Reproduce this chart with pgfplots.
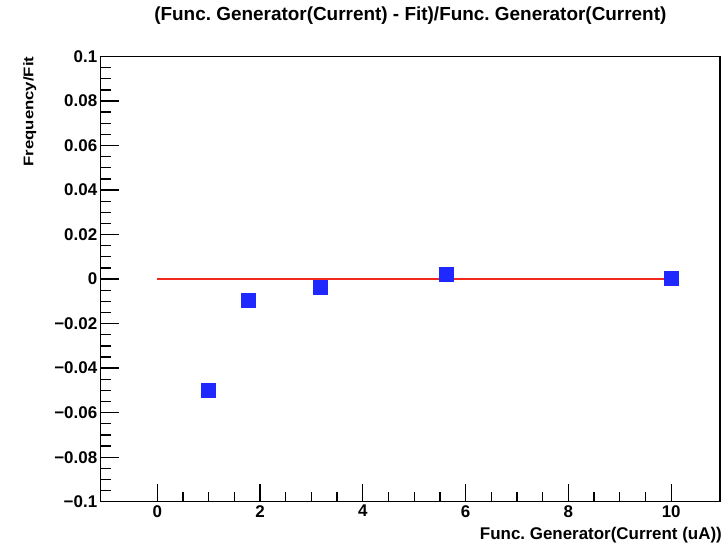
\documentclass[border=0pt]{standalone}
\usepackage{pgfplots}
\pgfplotsset{compat=1.18}
\usepackage{fontspec}
\setmainfont{Liberation Sans}
\usepackage{graphicx}
\definecolor{markblue}{RGB}{30,40,255}
\definecolor{fitred}{RGB}{240,40,30}
\frenchspacing
\begin{document}
\begin{tikzpicture}
\begin{axis}[
  scale only axis,
  width=619.3bp, height=445.2bp,
  xmin=-1.1, xmax=10.95, ymin=-0.1, ymax=0.1,
  axis line style={line width=1.5bp, black},
  tick style={line width=1.3bp, black},
  tick align=inside,
  xtick pos=bottom, ytick pos=left,
  major tick length=18bp, minor tick length=10bp,
  xtick={0,2,4,6,8,10},
  xticklabels={0,2,4,6,8,10},
  minor x tick num=3,
  ytick={-0.1,-0.08,-0.06,-0.04,-0.02,0,0.02,0.04,0.06,0.08,0.1},
  yticklabels={−0.1,−0.08,−0.06,−0.04,−0.02,0,0.02,0.04,0.06,0.08,0.1},
  minor y tick num=3,
  scaled y ticks=false,
  tick label style={font=\fontsize{17}{17}\selectfont\bfseries},
  title={(Func. Generator(Current) - Fit)/Func. Generator(Current)},
  title style={font=\fontsize{19}{19}\selectfont\bfseries, at={(axis description cs:0.5,1)}, anchor=base, yshift=30.5bp, inner sep=0pt},
  xlabel={Func. Generator(Current (uA))},
  xlabel style={font=\fontsize{17}{17}\selectfont\bfseries, at={(axis description cs:1,0)}, anchor=base east, yshift=-37.3bp, xshift=2bp, inner sep=0pt},
  ylabel={\scalebox{1.2}[1]{Frequency/Fit}},
  ylabel style={font=\fontsize{14}{14}\selectfont\bfseries, at={(axis description cs:-0.1255,1)}, anchor=north east, inner sep=0pt},
]
\addplot[only marks, mark=square*, mark size=7bp, color=markblue] coordinates {
  (1,-0.0499) (1.778,-0.0096) (3.162,-0.0036) (5.623,0.0024) (10,0.0003)
};
\addplot[fitred, line width=1.5bp] coordinates {(0,0) (10,0)};
\end{axis}
\pgfresetboundingbox
\path ([xshift=-100.7bp,yshift=-43.3bp]current axis.south west) rectangle ([xshift=5bp,yshift=56.5bp]current axis.north east);
\end{tikzpicture}
\end{document}
